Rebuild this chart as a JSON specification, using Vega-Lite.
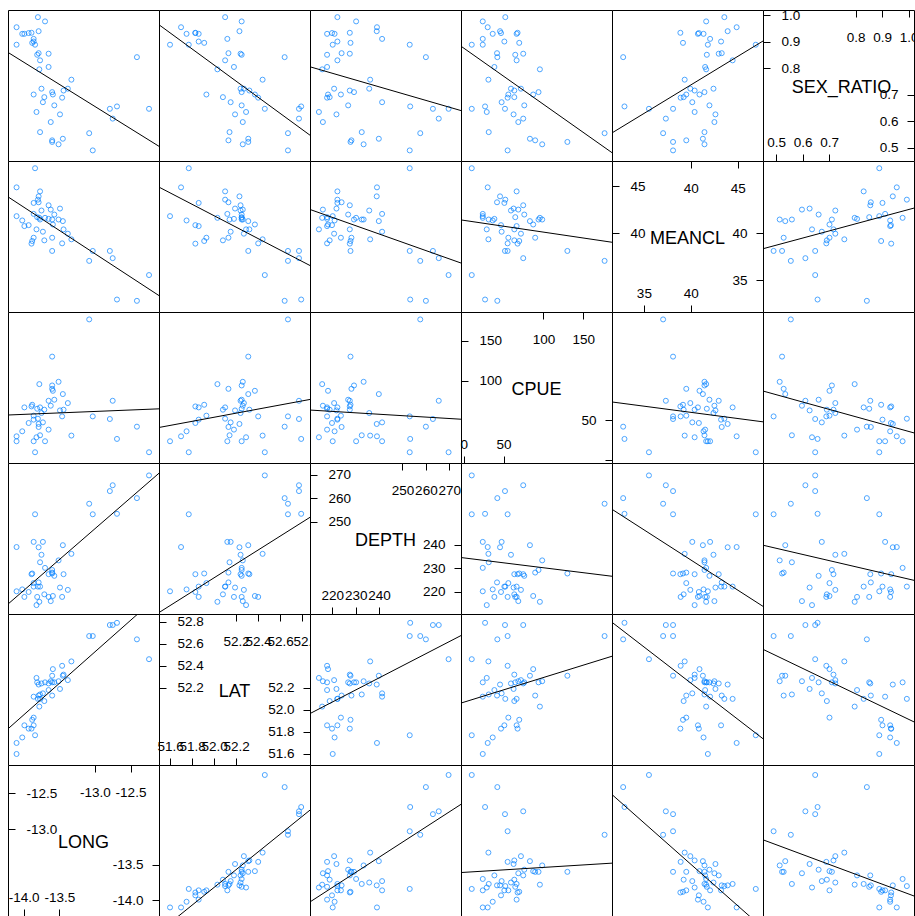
{
"$schema": "https://vega.github.io/schema/vega-lite/v6.json",
"padding": {"left": 7, "top": 7, "right": 0, "bottom": 0},
"background": "white",
"columns": 6,
"spacing": 0,
"bounds": "flush",
"config": {
  "view": {"stroke": "black", "strokeWidth": 1, "fill": "white"},
  "axis": {"domain": false, "grid": false, "ticks": true, "tickSize": -7, "tickColor": "black", "tickWidth": 1, "labelColor": "black", "labelFont": "Liberation Sans", "labelFontSize": 13.5, "labelOverlap": false, "labelFlush": false, "labelBound": false, "minExtent": 0, "maxExtent": 0},
  "axisLeft": {"labelAlign": "left", "labelBaseline": "middle", "labelPadding": -11},
  "axisRight": {"labelAlign": "right", "labelBaseline": "middle", "labelPadding": -9},
  "axisTop": {"labelAlign": "center", "labelBaseline": "middle", "labelPadding": -20},
  "axisBottom": {"labelAlign": "center", "labelBaseline": "middle", "labelPadding": -12}
},
"data": {"values": [
{"LONG":-14.10,"LAT":51.60,"DEPTH":220.2,"CPUE":23.8,"MEANCL":41.82,"SEX_RATIO":0.889},
{"LONG":-14.10,"LAT":51.70,"DEPTH":239.1,"CPUE":30.0,"MEANCL":44.89,"SEX_RATIO":0.955},
{"LONG":-14.02,"LAT":51.75,"DEPTH":221.0,"CPUE":36.3,"MEANCL":41.36,"SEX_RATIO":0.930},
{"LONG":-13.99,"LAT":51.86,"DEPTH":217.8,"CPUE":66.3,"MEANCL":40.76,"SEX_RATIO":0.930},
{"LONG":-13.93,"LAT":51.83,"DEPTH":219.9,"CPUE":46.7,"MEANCL":40.86,"SEX_RATIO":0.933},
{"LONG":-13.89,"LAT":51.83,"DEPTH":227.5,"CPUE":67.5,"MEANCL":38.89,"SEX_RATIO":0.934},
{"LONG":-13.88,"LAT":51.91,"DEPTH":227.8,"CPUE":69.6,"MEANCL":39.17,"SEX_RATIO":0.896},
{"LONG":-13.86,"LAT":51.93,"DEPTH":223.7,"CPUE":55.9,"MEANCL":39.52,"SEX_RATIO":0.701},
{"LONG":-13.86,"LAT":52.12,"DEPTH":241.3,"CPUE":23.8,"MEANCL":42.06,"SEX_RATIO":0.911},
{"LONG":-13.86,"LAT":51.86,"DEPTH":222.2,"CPUE":50.9,"MEANCL":43.23,"SEX_RATIO":0.901},
{"LONG":-13.84,"LAT":51.77,"DEPTH":253.1,"CPUE":10.0,"MEANCL":46.93,"SEX_RATIO":0.889},
{"LONG":-13.82,"LAT":52.29,"DEPTH":214.3,"CPUE":28.8,"MEANCL":40.41,"SEX_RATIO":0.635},
{"LONG":-13.81,"LAT":52.25,"DEPTH":217.8,"CPUE":64.6,"MEANCL":41.71,"SEX_RATIO":0.851},
{"LONG":-13.80,"LAT":52.10,"DEPTH":222.2,"CPUE":52.1,"MEANCL":43.58,"SEX_RATIO":0.993},
{"LONG":-13.79,"LAT":52.23,"DEPTH":239.0,"CPUE":45.5,"MEANCL":43.93,"SEX_RATIO":0.940},
{"LONG":-13.79,"LAT":52.13,"DEPTH":224.0,"CPUE":41.7,"MEANCL":43.30,"SEX_RATIO":0.857},
{"LONG":-13.78,"LAT":52.03,"DEPTH":215.7,"CPUE":95.5,"MEANCL":41.64,"SEX_RATIO":0.796},
{"LONG":-13.77,"LAT":52.14,"DEPTH":232.6,"CPUE":31.3,"MEANCL":41.46,"SEX_RATIO":0.559},
{"LONG":-13.77,"LAT":52.10,"DEPTH":222.2,"CPUE":66.3,"MEANCL":44.46,"SEX_RATIO":0.830},
{"LONG":-13.75,"LAT":52.24,"DEPTH":235.8,"CPUE":59.2,"MEANCL":42.42,"SEX_RATIO":0.723},
{"LONG":-13.73,"LAT":52.15,"DEPTH":241.3,"CPUE":47.5,"MEANCL":40.16,"SEX_RATIO":0.672},
{"LONG":-13.71,"LAT":52.08,"DEPTH":218.9,"CPUE":63.4,"MEANCL":39.24,"SEX_RATIO":0.691},
{"LONG":-13.70,"LAT":52.25,"DEPTH":230.2,"CPUE":23.8,"MEANCL":41.64,"SEX_RATIO":0.977},
{"LONG":-13.65,"LAT":52.24,"DEPTH":227.5,"CPUE":74.6,"MEANCL":42.98,"SEX_RATIO":0.855},
{"LONG":-13.65,"LAT":52.18,"DEPTH":217.8,"CPUE":38.4,"MEANCL":41.53,"SEX_RATIO":0.805},
{"LONG":-13.62,"LAT":52.26,"DEPTH":216.0,"CPUE":68.4,"MEANCL":42.52,"SEX_RATIO":0.597},
{"LONG":-13.60,"LAT":52.13,"DEPTH":228.2,"CPUE":89.6,"MEANCL":39.52,"SEX_RATIO":0.528},
{"LONG":-13.60,"LAT":52.25,"DEPTH":229.3,"CPUE":93.8,"MEANCL":41.46,"SEX_RATIO":0.710},
{"LONG":-13.60,"LAT":52.31,"DEPTH":227.8,"CPUE":130.0,"MEANCL":38.11,"SEX_RATIO":0.522},
{"LONG":-13.59,"LAT":52.37,"DEPTH":218.2,"CPUE":87.1,"MEANCL":40.93,"SEX_RATIO":0.701},
{"LONG":-13.57,"LAT":52.25,"DEPTH":226.8,"CPUE":75.9,"MEANCL":41.99,"SEX_RATIO":0.660},
{"LONG":-13.51,"LAT":52.26,"DEPTH":233.4,"CPUE":98.4,"MEANCL":41.46,"SEX_RATIO":0.513},
{"LONG":-13.49,"LAT":52.19,"DEPTH":221.8,"CPUE":62.5,"MEANCL":42.63,"SEX_RATIO":0.626},
{"LONG":-13.46,"LAT":52.40,"DEPTH":217.8,"CPUE":55.0,"MEANCL":38.92,"SEX_RATIO":0.689},
{"LONG":-13.45,"LAT":52.31,"DEPTH":239.9,"CPUE":83.0,"MEANCL":41.29,"SEX_RATIO":0.534},
{"LONG":-13.44,"LAT":52.32,"DEPTH":227.5,"CPUE":63.4,"MEANCL":40.41,"SEX_RATIO":0.716},
{"LONG":-13.38,"LAT":52.27,"DEPTH":220.8,"CPUE":71.7,"MEANCL":39.95,"SEX_RATIO":0.723},
{"LONG":-13.33,"LAT":52.44,"DEPTH":236.2,"CPUE":30.9,"MEANCL":39.35,"SEX_RATIO":0.757},
{"LONG":-13.08,"LAT":52.67,"DEPTH":257.6,"CPUE":176.7,"MEANCL":37.05,"SEX_RATIO":0.555},
{"LONG":-13.03,"LAT":52.67,"DEPTH":253.1,"CPUE":55.0,"MEANCL":38.11,"SEX_RATIO":0.490},
{"LONG":-12.79,"LAT":52.77,"DEPTH":263.0,"CPUE":51.7,"MEANCL":38.11,"SEX_RATIO":0.647},
{"LONG":-12.75,"LAT":52.77,"DEPTH":265.5,"CPUE":74.6,"MEANCL":37.34,"SEX_RATIO":0.610},
{"LONG":-12.69,"LAT":52.79,"DEPTH":253.3,"CPUE":26.7,"MEANCL":32.93,"SEX_RATIO":0.656},
{"LONG":-12.41,"LAT":52.64,"DEPTH":260.0,"CPUE":42.1,"MEANCL":32.79,"SEX_RATIO":0.842},
{"LONG":-12.24,"LAT":52.46,"DEPTH":269.7,"CPUE":10.0,"MEANCL":35.54,"SEX_RATIO":0.647}
]},
"concat": [
{"width":151,"height":151,"layer":[{"mark":{"type":"point","color":"#0080ff","size":25,"strokeWidth":1,"clip":true},"encoding":{"x":{"field":"LONG","type":"quantitative","scale":{"domain":[-14.22,-12.1],"nice":false,"zero":false},"axis":null},"y":{"field":"SEX_RATIO","type":"quantitative","scale":{"domain":[0.45,1.02],"nice":false,"zero":false},"axis":null}}},{"transform":[{"regression":"SEX_RATIO","on":"LONG","extent":[-14.22,-12.1]}],"mark":{"type":"line","color":"black","strokeWidth":1,"clip":true},"encoding":{"x":{"field":"LONG","type":"quantitative","scale":{"domain":[-14.22,-12.1],"nice":false,"zero":false},"axis":null},"y":{"field":"SEX_RATIO","type":"quantitative","scale":{"domain":[0.45,1.02],"nice":false,"zero":false},"axis":null}}}]},
{"width":151,"height":151,"layer":[{"mark":{"type":"point","color":"#0080ff","size":25,"strokeWidth":1,"clip":true},"encoding":{"x":{"field":"LAT","type":"quantitative","scale":{"domain":[51.5,52.87],"nice":false,"zero":false},"axis":null},"y":{"field":"SEX_RATIO","type":"quantitative","scale":{"domain":[0.45,1.02],"nice":false,"zero":false},"axis":null}}},{"transform":[{"regression":"SEX_RATIO","on":"LAT","extent":[51.5,52.87]}],"mark":{"type":"line","color":"black","strokeWidth":1,"clip":true},"encoding":{"x":{"field":"LAT","type":"quantitative","scale":{"domain":[51.5,52.87],"nice":false,"zero":false},"axis":null},"y":{"field":"SEX_RATIO","type":"quantitative","scale":{"domain":[0.45,1.02],"nice":false,"zero":false},"axis":null}}}]},
{"width":151,"height":151,"layer":[{"mark":{"type":"point","color":"#0080ff","size":25,"strokeWidth":1,"clip":true},"encoding":{"x":{"field":"DEPTH","type":"quantitative","scale":{"domain":[210.5,275],"nice":false,"zero":false},"axis":null},"y":{"field":"SEX_RATIO","type":"quantitative","scale":{"domain":[0.45,1.02],"nice":false,"zero":false},"axis":null}}},{"transform":[{"regression":"SEX_RATIO","on":"DEPTH","extent":[210.5,275]}],"mark":{"type":"line","color":"black","strokeWidth":1,"clip":true},"encoding":{"x":{"field":"DEPTH","type":"quantitative","scale":{"domain":[210.5,275],"nice":false,"zero":false},"axis":null},"y":{"field":"SEX_RATIO","type":"quantitative","scale":{"domain":[0.45,1.02],"nice":false,"zero":false},"axis":null}}}]},
{"width":151,"height":151,"layer":[{"mark":{"type":"point","color":"#0080ff","size":25,"strokeWidth":1,"clip":true},"encoding":{"x":{"field":"CPUE","type":"quantitative","scale":{"domain":[-3.5,186],"nice":false,"zero":false},"axis":null},"y":{"field":"SEX_RATIO","type":"quantitative","scale":{"domain":[0.45,1.02],"nice":false,"zero":false},"axis":null}}},{"transform":[{"regression":"SEX_RATIO","on":"CPUE","extent":[-3.5,186]}],"mark":{"type":"line","color":"black","strokeWidth":1,"clip":true},"encoding":{"x":{"field":"CPUE","type":"quantitative","scale":{"domain":[-3.5,186],"nice":false,"zero":false},"axis":null},"y":{"field":"SEX_RATIO","type":"quantitative","scale":{"domain":[0.45,1.02],"nice":false,"zero":false},"axis":null}}}]},
{"width":151,"height":151,"layer":[{"mark":{"type":"point","color":"#0080ff","size":25,"strokeWidth":1,"clip":true},"encoding":{"x":{"field":"MEANCL","type":"quantitative","scale":{"domain":[31.6,47.7],"nice":false,"zero":false},"axis":null},"y":{"field":"SEX_RATIO","type":"quantitative","scale":{"domain":[0.45,1.02],"nice":false,"zero":false},"axis":null}}},{"transform":[{"regression":"SEX_RATIO","on":"MEANCL","extent":[31.6,47.7]}],"mark":{"type":"line","color":"black","strokeWidth":1,"clip":true},"encoding":{"x":{"field":"MEANCL","type":"quantitative","scale":{"domain":[31.6,47.7],"nice":false,"zero":false},"axis":null},"y":{"field":"SEX_RATIO","type":"quantitative","scale":{"domain":[0.45,1.02],"nice":false,"zero":false},"axis":null}}}]},
{"width":151,"height":151,"data":{"values":[{"lab":"SEX_RATIO"}]},"layer":[
 {"mark":{"type":"text","font":"Liberation Sans","fontSize":18,"color":"black","baseline":"middle","dy":2,"dx":3},"encoding":{"text":{"field":"lab"},"x":{"datum":0.735,"type":"quantitative","scale":{"domain":[0.45,1.02],"nice":false,"zero":false},"axis":{"orient":"bottom","values":[0.5,0.6,0.7],"format":".1f","title":null}},"y":{"datum":0.735,"type":"quantitative","scale":{"domain":[0.45,1.02],"nice":false,"zero":false},"axis":{"orient":"left","values":[0.8,0.9,1.0],"format":".1f","title":null}}}},
 {"mark":{"type":"text","opacity":0},"encoding":{"text":{"field":"lab"},"x":{"datum":0.735,"type":"quantitative","scale":{"domain":[0.45,1.02],"nice":false,"zero":false},"axis":{"orient":"top","values":[0.8,0.9,1.0],"format":".1f","title":null}},"y":{"datum":0.735,"type":"quantitative","scale":{"domain":[0.45,1.02],"nice":false,"zero":false},"axis":{"orient":"right","values":[0.5,0.6,0.7],"format":".1f","title":null}}}}
],"resolve":{"axis":{"x":"independent","y":"independent"}}},
{"width":151,"height":151,"layer":[{"mark":{"type":"point","color":"#0080ff","size":25,"strokeWidth":1,"clip":true},"encoding":{"x":{"field":"LONG","type":"quantitative","scale":{"domain":[-14.22,-12.1],"nice":false,"zero":false},"axis":null},"y":{"field":"MEANCL","type":"quantitative","scale":{"domain":[31.6,47.7],"nice":false,"zero":false},"axis":null}}},{"transform":[{"regression":"MEANCL","on":"LONG","extent":[-14.22,-12.1]}],"mark":{"type":"line","color":"black","strokeWidth":1,"clip":true},"encoding":{"x":{"field":"LONG","type":"quantitative","scale":{"domain":[-14.22,-12.1],"nice":false,"zero":false},"axis":null},"y":{"field":"MEANCL","type":"quantitative","scale":{"domain":[31.6,47.7],"nice":false,"zero":false},"axis":null}}}]},
{"width":151,"height":151,"layer":[{"mark":{"type":"point","color":"#0080ff","size":25,"strokeWidth":1,"clip":true},"encoding":{"x":{"field":"LAT","type":"quantitative","scale":{"domain":[51.5,52.87],"nice":false,"zero":false},"axis":null},"y":{"field":"MEANCL","type":"quantitative","scale":{"domain":[31.6,47.7],"nice":false,"zero":false},"axis":null}}},{"transform":[{"regression":"MEANCL","on":"LAT","extent":[51.5,52.87]}],"mark":{"type":"line","color":"black","strokeWidth":1,"clip":true},"encoding":{"x":{"field":"LAT","type":"quantitative","scale":{"domain":[51.5,52.87],"nice":false,"zero":false},"axis":null},"y":{"field":"MEANCL","type":"quantitative","scale":{"domain":[31.6,47.7],"nice":false,"zero":false},"axis":null}}}]},
{"width":151,"height":151,"layer":[{"mark":{"type":"point","color":"#0080ff","size":25,"strokeWidth":1,"clip":true},"encoding":{"x":{"field":"DEPTH","type":"quantitative","scale":{"domain":[210.5,275],"nice":false,"zero":false},"axis":null},"y":{"field":"MEANCL","type":"quantitative","scale":{"domain":[31.6,47.7],"nice":false,"zero":false},"axis":null}}},{"transform":[{"regression":"MEANCL","on":"DEPTH","extent":[210.5,275]}],"mark":{"type":"line","color":"black","strokeWidth":1,"clip":true},"encoding":{"x":{"field":"DEPTH","type":"quantitative","scale":{"domain":[210.5,275],"nice":false,"zero":false},"axis":null},"y":{"field":"MEANCL","type":"quantitative","scale":{"domain":[31.6,47.7],"nice":false,"zero":false},"axis":null}}}]},
{"width":151,"height":151,"layer":[{"mark":{"type":"point","color":"#0080ff","size":25,"strokeWidth":1,"clip":true},"encoding":{"x":{"field":"CPUE","type":"quantitative","scale":{"domain":[-3.5,186],"nice":false,"zero":false},"axis":null},"y":{"field":"MEANCL","type":"quantitative","scale":{"domain":[31.6,47.7],"nice":false,"zero":false},"axis":null}}},{"transform":[{"regression":"MEANCL","on":"CPUE","extent":[-3.5,186]}],"mark":{"type":"line","color":"black","strokeWidth":1,"clip":true},"encoding":{"x":{"field":"CPUE","type":"quantitative","scale":{"domain":[-3.5,186],"nice":false,"zero":false},"axis":null},"y":{"field":"MEANCL","type":"quantitative","scale":{"domain":[31.6,47.7],"nice":false,"zero":false},"axis":null}}}]},
{"width":151,"height":151,"data":{"values":[{"lab":"MEANCL"}]},"layer":[
 {"mark":{"type":"text","font":"Liberation Sans","fontSize":18,"color":"black","baseline":"middle","dy":2},"encoding":{"text":{"field":"lab"},"x":{"datum":39.65,"type":"quantitative","scale":{"domain":[31.6,47.7],"nice":false,"zero":false},"axis":{"orient":"bottom","values":[35,40],"format":"d","title":null}},"y":{"datum":39.65,"type":"quantitative","scale":{"domain":[31.6,47.7],"nice":false,"zero":false},"axis":{"orient":"left","values":[40,45],"format":"d","title":null}}}},
 {"mark":{"type":"text","opacity":0},"encoding":{"text":{"field":"lab"},"x":{"datum":39.65,"type":"quantitative","scale":{"domain":[31.6,47.7],"nice":false,"zero":false},"axis":{"orient":"top","values":[40,45],"format":"d","title":null}},"y":{"datum":39.65,"type":"quantitative","scale":{"domain":[31.6,47.7],"nice":false,"zero":false},"axis":{"orient":"right","values":[35,40],"format":"d","title":null}}}}
],"resolve":{"axis":{"x":"independent","y":"independent"}}},
{"width":151,"height":151,"layer":[{"mark":{"type":"point","color":"#0080ff","size":25,"strokeWidth":1,"clip":true},"encoding":{"x":{"field":"SEX_RATIO","type":"quantitative","scale":{"domain":[0.45,1.02],"nice":false,"zero":false},"axis":null},"y":{"field":"MEANCL","type":"quantitative","scale":{"domain":[31.6,47.7],"nice":false,"zero":false},"axis":null}}},{"transform":[{"regression":"MEANCL","on":"SEX_RATIO","extent":[0.45,1.02]}],"mark":{"type":"line","color":"black","strokeWidth":1,"clip":true},"encoding":{"x":{"field":"SEX_RATIO","type":"quantitative","scale":{"domain":[0.45,1.02],"nice":false,"zero":false},"axis":null},"y":{"field":"MEANCL","type":"quantitative","scale":{"domain":[31.6,47.7],"nice":false,"zero":false},"axis":null}}}]},
{"width":151,"height":151,"layer":[{"mark":{"type":"point","color":"#0080ff","size":25,"strokeWidth":1,"clip":true},"encoding":{"x":{"field":"LONG","type":"quantitative","scale":{"domain":[-14.22,-12.1],"nice":false,"zero":false},"axis":null},"y":{"field":"CPUE","type":"quantitative","scale":{"domain":[-3.5,186],"nice":false,"zero":false},"axis":null}}},{"transform":[{"regression":"CPUE","on":"LONG","extent":[-14.22,-12.1]}],"mark":{"type":"line","color":"black","strokeWidth":1,"clip":true},"encoding":{"x":{"field":"LONG","type":"quantitative","scale":{"domain":[-14.22,-12.1],"nice":false,"zero":false},"axis":null},"y":{"field":"CPUE","type":"quantitative","scale":{"domain":[-3.5,186],"nice":false,"zero":false},"axis":null}}}]},
{"width":151,"height":151,"layer":[{"mark":{"type":"point","color":"#0080ff","size":25,"strokeWidth":1,"clip":true},"encoding":{"x":{"field":"LAT","type":"quantitative","scale":{"domain":[51.5,52.87],"nice":false,"zero":false},"axis":null},"y":{"field":"CPUE","type":"quantitative","scale":{"domain":[-3.5,186],"nice":false,"zero":false},"axis":null}}},{"transform":[{"regression":"CPUE","on":"LAT","extent":[51.5,52.87]}],"mark":{"type":"line","color":"black","strokeWidth":1,"clip":true},"encoding":{"x":{"field":"LAT","type":"quantitative","scale":{"domain":[51.5,52.87],"nice":false,"zero":false},"axis":null},"y":{"field":"CPUE","type":"quantitative","scale":{"domain":[-3.5,186],"nice":false,"zero":false},"axis":null}}}]},
{"width":151,"height":151,"layer":[{"mark":{"type":"point","color":"#0080ff","size":25,"strokeWidth":1,"clip":true},"encoding":{"x":{"field":"DEPTH","type":"quantitative","scale":{"domain":[210.5,275],"nice":false,"zero":false},"axis":null},"y":{"field":"CPUE","type":"quantitative","scale":{"domain":[-3.5,186],"nice":false,"zero":false},"axis":null}}},{"transform":[{"regression":"CPUE","on":"DEPTH","extent":[210.5,275]}],"mark":{"type":"line","color":"black","strokeWidth":1,"clip":true},"encoding":{"x":{"field":"DEPTH","type":"quantitative","scale":{"domain":[210.5,275],"nice":false,"zero":false},"axis":null},"y":{"field":"CPUE","type":"quantitative","scale":{"domain":[-3.5,186],"nice":false,"zero":false},"axis":null}}}]},
{"width":151,"height":151,"data":{"values":[{"lab":"CPUE"}]},"layer":[
 {"mark":{"type":"text","font":"Liberation Sans","fontSize":18,"color":"black","baseline":"middle","dy":2},"encoding":{"text":{"field":"lab"},"x":{"datum":91.25,"type":"quantitative","scale":{"domain":[-3.5,186],"nice":false,"zero":false},"axis":{"orient":"bottom","values":[0,50],"format":"d","title":null}},"y":{"datum":91.25,"type":"quantitative","scale":{"domain":[-3.5,186],"nice":false,"zero":false},"axis":{"orient":"left","values":[100,150],"format":"d","title":null}}}},
 {"mark":{"type":"text","opacity":0},"encoding":{"text":{"field":"lab"},"x":{"datum":91.25,"type":"quantitative","scale":{"domain":[-3.5,186],"nice":false,"zero":false},"axis":{"orient":"top","values":[100,150],"format":"d","title":null}},"y":{"datum":91.25,"type":"quantitative","scale":{"domain":[-3.5,186],"nice":false,"zero":false},"axis":{"orient":"right","values":[0,50],"format":"d","labelExpr":"datum.value == 0 ? '' : datum.label","title":null}}}}
],"resolve":{"axis":{"x":"independent","y":"independent"}}},
{"width":151,"height":151,"layer":[{"mark":{"type":"point","color":"#0080ff","size":25,"strokeWidth":1,"clip":true},"encoding":{"x":{"field":"MEANCL","type":"quantitative","scale":{"domain":[31.6,47.7],"nice":false,"zero":false},"axis":null},"y":{"field":"CPUE","type":"quantitative","scale":{"domain":[-3.5,186],"nice":false,"zero":false},"axis":null}}},{"transform":[{"regression":"CPUE","on":"MEANCL","extent":[31.6,47.7]}],"mark":{"type":"line","color":"black","strokeWidth":1,"clip":true},"encoding":{"x":{"field":"MEANCL","type":"quantitative","scale":{"domain":[31.6,47.7],"nice":false,"zero":false},"axis":null},"y":{"field":"CPUE","type":"quantitative","scale":{"domain":[-3.5,186],"nice":false,"zero":false},"axis":null}}}]},
{"width":151,"height":151,"layer":[{"mark":{"type":"point","color":"#0080ff","size":25,"strokeWidth":1,"clip":true},"encoding":{"x":{"field":"SEX_RATIO","type":"quantitative","scale":{"domain":[0.45,1.02],"nice":false,"zero":false},"axis":null},"y":{"field":"CPUE","type":"quantitative","scale":{"domain":[-3.5,186],"nice":false,"zero":false},"axis":null}}},{"transform":[{"regression":"CPUE","on":"SEX_RATIO","extent":[0.45,1.02]}],"mark":{"type":"line","color":"black","strokeWidth":1,"clip":true},"encoding":{"x":{"field":"SEX_RATIO","type":"quantitative","scale":{"domain":[0.45,1.02],"nice":false,"zero":false},"axis":null},"y":{"field":"CPUE","type":"quantitative","scale":{"domain":[-3.5,186],"nice":false,"zero":false},"axis":null}}}]},
{"width":151,"height":151,"layer":[{"mark":{"type":"point","color":"#0080ff","size":25,"strokeWidth":1,"clip":true},"encoding":{"x":{"field":"LONG","type":"quantitative","scale":{"domain":[-14.22,-12.1],"nice":false,"zero":false},"axis":null},"y":{"field":"DEPTH","type":"quantitative","scale":{"domain":[210.5,275],"nice":false,"zero":false},"axis":null}}},{"transform":[{"regression":"DEPTH","on":"LONG","extent":[-14.22,-12.1]}],"mark":{"type":"line","color":"black","strokeWidth":1,"clip":true},"encoding":{"x":{"field":"LONG","type":"quantitative","scale":{"domain":[-14.22,-12.1],"nice":false,"zero":false},"axis":null},"y":{"field":"DEPTH","type":"quantitative","scale":{"domain":[210.5,275],"nice":false,"zero":false},"axis":null}}}]},
{"width":151,"height":151,"layer":[{"mark":{"type":"point","color":"#0080ff","size":25,"strokeWidth":1,"clip":true},"encoding":{"x":{"field":"LAT","type":"quantitative","scale":{"domain":[51.5,52.87],"nice":false,"zero":false},"axis":null},"y":{"field":"DEPTH","type":"quantitative","scale":{"domain":[210.5,275],"nice":false,"zero":false},"axis":null}}},{"transform":[{"regression":"DEPTH","on":"LAT","extent":[51.5,52.87]}],"mark":{"type":"line","color":"black","strokeWidth":1,"clip":true},"encoding":{"x":{"field":"LAT","type":"quantitative","scale":{"domain":[51.5,52.87],"nice":false,"zero":false},"axis":null},"y":{"field":"DEPTH","type":"quantitative","scale":{"domain":[210.5,275],"nice":false,"zero":false},"axis":null}}}]},
{"width":151,"height":151,"data":{"values":[{"lab":"DEPTH"}]},"layer":[
 {"mark":{"type":"text","font":"Liberation Sans","fontSize":18,"color":"black","baseline":"middle","dy":2},"encoding":{"text":{"field":"lab"},"x":{"datum":242.75,"type":"quantitative","scale":{"domain":[210.5,275],"nice":false,"zero":false},"axis":{"orient":"bottom","values":[220,230,240],"format":"d","title":null}},"y":{"datum":242.75,"type":"quantitative","scale":{"domain":[210.5,275],"nice":false,"zero":false},"axis":{"orient":"left","values":[250,260,270],"format":"d","title":null}}}},
 {"mark":{"type":"text","opacity":0},"encoding":{"text":{"field":"lab"},"x":{"datum":242.75,"type":"quantitative","scale":{"domain":[210.5,275],"nice":false,"zero":false},"axis":{"orient":"top","values":[250,260,270],"format":"d","title":null}},"y":{"datum":242.75,"type":"quantitative","scale":{"domain":[210.5,275],"nice":false,"zero":false},"axis":{"orient":"right","values":[220,230,240],"format":"d","title":null}}}}
],"resolve":{"axis":{"x":"independent","y":"independent"}}},
{"width":151,"height":151,"layer":[{"mark":{"type":"point","color":"#0080ff","size":25,"strokeWidth":1,"clip":true},"encoding":{"x":{"field":"CPUE","type":"quantitative","scale":{"domain":[-3.5,186],"nice":false,"zero":false},"axis":null},"y":{"field":"DEPTH","type":"quantitative","scale":{"domain":[210.5,275],"nice":false,"zero":false},"axis":null}}},{"transform":[{"regression":"DEPTH","on":"CPUE","extent":[-3.5,186]}],"mark":{"type":"line","color":"black","strokeWidth":1,"clip":true},"encoding":{"x":{"field":"CPUE","type":"quantitative","scale":{"domain":[-3.5,186],"nice":false,"zero":false},"axis":null},"y":{"field":"DEPTH","type":"quantitative","scale":{"domain":[210.5,275],"nice":false,"zero":false},"axis":null}}}]},
{"width":151,"height":151,"layer":[{"mark":{"type":"point","color":"#0080ff","size":25,"strokeWidth":1,"clip":true},"encoding":{"x":{"field":"MEANCL","type":"quantitative","scale":{"domain":[31.6,47.7],"nice":false,"zero":false},"axis":null},"y":{"field":"DEPTH","type":"quantitative","scale":{"domain":[210.5,275],"nice":false,"zero":false},"axis":null}}},{"transform":[{"regression":"DEPTH","on":"MEANCL","extent":[31.6,47.7]}],"mark":{"type":"line","color":"black","strokeWidth":1,"clip":true},"encoding":{"x":{"field":"MEANCL","type":"quantitative","scale":{"domain":[31.6,47.7],"nice":false,"zero":false},"axis":null},"y":{"field":"DEPTH","type":"quantitative","scale":{"domain":[210.5,275],"nice":false,"zero":false},"axis":null}}}]},
{"width":151,"height":151,"layer":[{"mark":{"type":"point","color":"#0080ff","size":25,"strokeWidth":1,"clip":true},"encoding":{"x":{"field":"SEX_RATIO","type":"quantitative","scale":{"domain":[0.45,1.02],"nice":false,"zero":false},"axis":null},"y":{"field":"DEPTH","type":"quantitative","scale":{"domain":[210.5,275],"nice":false,"zero":false},"axis":null}}},{"transform":[{"regression":"DEPTH","on":"SEX_RATIO","extent":[0.45,1.02]}],"mark":{"type":"line","color":"black","strokeWidth":1,"clip":true},"encoding":{"x":{"field":"SEX_RATIO","type":"quantitative","scale":{"domain":[0.45,1.02],"nice":false,"zero":false},"axis":null},"y":{"field":"DEPTH","type":"quantitative","scale":{"domain":[210.5,275],"nice":false,"zero":false},"axis":null}}}]},
{"width":151,"height":151,"layer":[{"mark":{"type":"point","color":"#0080ff","size":25,"strokeWidth":1,"clip":true},"encoding":{"x":{"field":"LONG","type":"quantitative","scale":{"domain":[-14.22,-12.1],"nice":false,"zero":false},"axis":null},"y":{"field":"LAT","type":"quantitative","scale":{"domain":[51.5,52.87],"nice":false,"zero":false},"axis":null}}},{"transform":[{"regression":"LAT","on":"LONG","extent":[-14.22,-12.1]}],"mark":{"type":"line","color":"black","strokeWidth":1,"clip":true},"encoding":{"x":{"field":"LONG","type":"quantitative","scale":{"domain":[-14.22,-12.1],"nice":false,"zero":false},"axis":null},"y":{"field":"LAT","type":"quantitative","scale":{"domain":[51.5,52.87],"nice":false,"zero":false},"axis":null}}}]},
{"width":151,"height":151,"data":{"values":[{"lab":"LAT"}]},"layer":[
 {"mark":{"type":"text","font":"Liberation Sans","fontSize":18,"color":"black","baseline":"middle","dy":2},"encoding":{"text":{"field":"lab"},"x":{"datum":52.185,"type":"quantitative","scale":{"domain":[51.5,52.87],"nice":false,"zero":false},"axis":{"orient":"bottom","values":[51.6,51.8,52.0,52.2],"format":".1f","title":null}},"y":{"datum":52.185,"type":"quantitative","scale":{"domain":[51.5,52.87],"nice":false,"zero":false},"axis":{"orient":"left","values":[52.2,52.4,52.6,52.8],"format":".1f","title":null}}}},
 {"mark":{"type":"text","opacity":0},"encoding":{"text":{"field":"lab"},"x":{"datum":52.185,"type":"quantitative","scale":{"domain":[51.5,52.87],"nice":false,"zero":false},"axis":{"orient":"top","values":[52.2,52.4,52.6,52.8],"format":".1f","labelExpr":"datum.value > 52.7 ? '52.' : datum.label","title":null}},"y":{"datum":52.185,"type":"quantitative","scale":{"domain":[51.5,52.87],"nice":false,"zero":false},"axis":{"orient":"right","values":[51.6,51.8,52.0,52.2],"format":".1f","title":null}}}}
],"resolve":{"axis":{"x":"independent","y":"independent"}}},
{"width":151,"height":151,"layer":[{"mark":{"type":"point","color":"#0080ff","size":25,"strokeWidth":1,"clip":true},"encoding":{"x":{"field":"DEPTH","type":"quantitative","scale":{"domain":[210.5,275],"nice":false,"zero":false},"axis":null},"y":{"field":"LAT","type":"quantitative","scale":{"domain":[51.5,52.87],"nice":false,"zero":false},"axis":null}}},{"transform":[{"regression":"LAT","on":"DEPTH","extent":[210.5,275]}],"mark":{"type":"line","color":"black","strokeWidth":1,"clip":true},"encoding":{"x":{"field":"DEPTH","type":"quantitative","scale":{"domain":[210.5,275],"nice":false,"zero":false},"axis":null},"y":{"field":"LAT","type":"quantitative","scale":{"domain":[51.5,52.87],"nice":false,"zero":false},"axis":null}}}]},
{"width":151,"height":151,"layer":[{"mark":{"type":"point","color":"#0080ff","size":25,"strokeWidth":1,"clip":true},"encoding":{"x":{"field":"CPUE","type":"quantitative","scale":{"domain":[-3.5,186],"nice":false,"zero":false},"axis":null},"y":{"field":"LAT","type":"quantitative","scale":{"domain":[51.5,52.87],"nice":false,"zero":false},"axis":null}}},{"transform":[{"regression":"LAT","on":"CPUE","extent":[-3.5,186]}],"mark":{"type":"line","color":"black","strokeWidth":1,"clip":true},"encoding":{"x":{"field":"CPUE","type":"quantitative","scale":{"domain":[-3.5,186],"nice":false,"zero":false},"axis":null},"y":{"field":"LAT","type":"quantitative","scale":{"domain":[51.5,52.87],"nice":false,"zero":false},"axis":null}}}]},
{"width":151,"height":151,"layer":[{"mark":{"type":"point","color":"#0080ff","size":25,"strokeWidth":1,"clip":true},"encoding":{"x":{"field":"MEANCL","type":"quantitative","scale":{"domain":[31.6,47.7],"nice":false,"zero":false},"axis":null},"y":{"field":"LAT","type":"quantitative","scale":{"domain":[51.5,52.87],"nice":false,"zero":false},"axis":null}}},{"transform":[{"regression":"LAT","on":"MEANCL","extent":[31.6,47.7]}],"mark":{"type":"line","color":"black","strokeWidth":1,"clip":true},"encoding":{"x":{"field":"MEANCL","type":"quantitative","scale":{"domain":[31.6,47.7],"nice":false,"zero":false},"axis":null},"y":{"field":"LAT","type":"quantitative","scale":{"domain":[51.5,52.87],"nice":false,"zero":false},"axis":null}}}]},
{"width":151,"height":151,"layer":[{"mark":{"type":"point","color":"#0080ff","size":25,"strokeWidth":1,"clip":true},"encoding":{"x":{"field":"SEX_RATIO","type":"quantitative","scale":{"domain":[0.45,1.02],"nice":false,"zero":false},"axis":null},"y":{"field":"LAT","type":"quantitative","scale":{"domain":[51.5,52.87],"nice":false,"zero":false},"axis":null}}},{"transform":[{"regression":"LAT","on":"SEX_RATIO","extent":[0.45,1.02]}],"mark":{"type":"line","color":"black","strokeWidth":1,"clip":true},"encoding":{"x":{"field":"SEX_RATIO","type":"quantitative","scale":{"domain":[0.45,1.02],"nice":false,"zero":false},"axis":null},"y":{"field":"LAT","type":"quantitative","scale":{"domain":[51.5,52.87],"nice":false,"zero":false},"axis":null}}}]},
{"width":151,"height":151,"data":{"values":[{"lab":"LONG"}]},"layer":[
 {"mark":{"type":"text","font":"Liberation Sans","fontSize":18,"color":"black","baseline":"middle","dy":2},"encoding":{"text":{"field":"lab"},"x":{"datum":-13.16,"type":"quantitative","scale":{"domain":[-14.22,-12.1],"nice":false,"zero":false},"axis":{"orient":"bottom","values":[-14.0,-13.5],"labelExpr":"(datum.value < 0 ? '-' : '') + format(abs(datum.value), '.1f')","title":null}},"y":{"datum":-13.16,"type":"quantitative","scale":{"domain":[-14.22,-12.1],"nice":false,"zero":false},"axis":{"orient":"left","values":[-13.0,-12.5],"labelExpr":"(datum.value < 0 ? '-' : '') + format(abs(datum.value), '.1f')","title":null}}}},
 {"mark":{"type":"text","opacity":0},"encoding":{"text":{"field":"lab"},"x":{"datum":-13.16,"type":"quantitative","scale":{"domain":[-14.22,-12.1],"nice":false,"zero":false},"axis":{"orient":"top","values":[-13.0,-12.5],"labelExpr":"(datum.value < 0 ? '-' : '') + format(abs(datum.value), '.1f')","title":null}},"y":{"datum":-13.16,"type":"quantitative","scale":{"domain":[-14.22,-12.1],"nice":false,"zero":false},"axis":{"orient":"right","values":[-14.0,-13.5],"labelExpr":"(datum.value < 0 ? '-' : '') + format(abs(datum.value), '.1f')","title":null}}}}
],"resolve":{"axis":{"x":"independent","y":"independent"}}},
{"width":151,"height":151,"layer":[{"mark":{"type":"point","color":"#0080ff","size":25,"strokeWidth":1,"clip":true},"encoding":{"x":{"field":"LAT","type":"quantitative","scale":{"domain":[51.5,52.87],"nice":false,"zero":false},"axis":null},"y":{"field":"LONG","type":"quantitative","scale":{"domain":[-14.22,-12.1],"nice":false,"zero":false},"axis":null}}},{"transform":[{"regression":"LONG","on":"LAT","extent":[51.5,52.87]}],"mark":{"type":"line","color":"black","strokeWidth":1,"clip":true},"encoding":{"x":{"field":"LAT","type":"quantitative","scale":{"domain":[51.5,52.87],"nice":false,"zero":false},"axis":null},"y":{"field":"LONG","type":"quantitative","scale":{"domain":[-14.22,-12.1],"nice":false,"zero":false},"axis":null}}}]},
{"width":151,"height":151,"layer":[{"mark":{"type":"point","color":"#0080ff","size":25,"strokeWidth":1,"clip":true},"encoding":{"x":{"field":"DEPTH","type":"quantitative","scale":{"domain":[210.5,275],"nice":false,"zero":false},"axis":null},"y":{"field":"LONG","type":"quantitative","scale":{"domain":[-14.22,-12.1],"nice":false,"zero":false},"axis":null}}},{"transform":[{"regression":"LONG","on":"DEPTH","extent":[210.5,275]}],"mark":{"type":"line","color":"black","strokeWidth":1,"clip":true},"encoding":{"x":{"field":"DEPTH","type":"quantitative","scale":{"domain":[210.5,275],"nice":false,"zero":false},"axis":null},"y":{"field":"LONG","type":"quantitative","scale":{"domain":[-14.22,-12.1],"nice":false,"zero":false},"axis":null}}}]},
{"width":151,"height":151,"layer":[{"mark":{"type":"point","color":"#0080ff","size":25,"strokeWidth":1,"clip":true},"encoding":{"x":{"field":"CPUE","type":"quantitative","scale":{"domain":[-3.5,186],"nice":false,"zero":false},"axis":null},"y":{"field":"LONG","type":"quantitative","scale":{"domain":[-14.22,-12.1],"nice":false,"zero":false},"axis":null}}},{"transform":[{"regression":"LONG","on":"CPUE","extent":[-3.5,186]}],"mark":{"type":"line","color":"black","strokeWidth":1,"clip":true},"encoding":{"x":{"field":"CPUE","type":"quantitative","scale":{"domain":[-3.5,186],"nice":false,"zero":false},"axis":null},"y":{"field":"LONG","type":"quantitative","scale":{"domain":[-14.22,-12.1],"nice":false,"zero":false},"axis":null}}}]},
{"width":151,"height":151,"layer":[{"mark":{"type":"point","color":"#0080ff","size":25,"strokeWidth":1,"clip":true},"encoding":{"x":{"field":"MEANCL","type":"quantitative","scale":{"domain":[31.6,47.7],"nice":false,"zero":false},"axis":null},"y":{"field":"LONG","type":"quantitative","scale":{"domain":[-14.22,-12.1],"nice":false,"zero":false},"axis":null}}},{"transform":[{"regression":"LONG","on":"MEANCL","extent":[31.6,47.7]}],"mark":{"type":"line","color":"black","strokeWidth":1,"clip":true},"encoding":{"x":{"field":"MEANCL","type":"quantitative","scale":{"domain":[31.6,47.7],"nice":false,"zero":false},"axis":null},"y":{"field":"LONG","type":"quantitative","scale":{"domain":[-14.22,-12.1],"nice":false,"zero":false},"axis":null}}}]},
{"width":151,"height":151,"layer":[{"mark":{"type":"point","color":"#0080ff","size":25,"strokeWidth":1,"clip":true},"encoding":{"x":{"field":"SEX_RATIO","type":"quantitative","scale":{"domain":[0.45,1.02],"nice":false,"zero":false},"axis":null},"y":{"field":"LONG","type":"quantitative","scale":{"domain":[-14.22,-12.1],"nice":false,"zero":false},"axis":null}}},{"transform":[{"regression":"LONG","on":"SEX_RATIO","extent":[0.45,1.02]}],"mark":{"type":"line","color":"black","strokeWidth":1,"clip":true},"encoding":{"x":{"field":"SEX_RATIO","type":"quantitative","scale":{"domain":[0.45,1.02],"nice":false,"zero":false},"axis":null},"y":{"field":"LONG","type":"quantitative","scale":{"domain":[-14.22,-12.1],"nice":false,"zero":false},"axis":null}}}]}
]
}
